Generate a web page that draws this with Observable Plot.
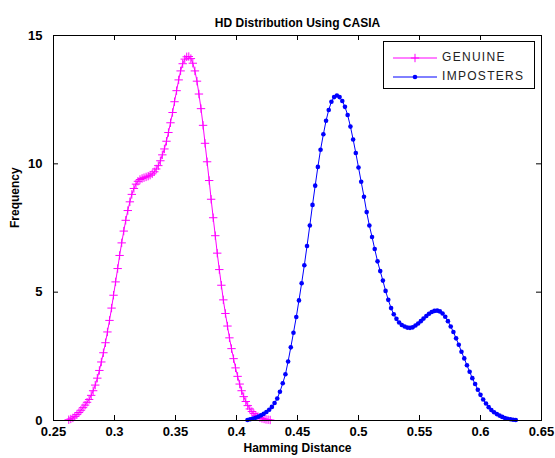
<!DOCTYPE html>
<html><head><meta charset="utf-8">
<script src="https://cdn.jsdelivr.net/npm/d3@7"></script>
<script src="https://cdn.jsdelivr.net/npm/@observablehq/plot@0.6"></script>
<style>
html,body{margin:0;padding:0;background:#fff;}
#wrap{position:relative;width:555px;height:458px;font-family:"Liberation Sans",Arial,sans-serif;}
#legend{position:absolute;left:383px;top:41px;width:152px;height:48px;box-sizing:border-box;border:1px solid #000;background:#fff;}
#legend svg{display:block;}
</style></head><body><div id="wrap"></div>
<script>
const seriesNames = ["GENUINE", "IMPOSTERS"];
const xTicks = [0.25, 0.3, 0.35, 0.4, 0.45, 0.5, 0.55, 0.6, 0.65];
const xTickLabels = ["0.25", "0.3", "0.35", "0.4", "0.45", "0.5", "0.55", "0.6", "0.65"];
const yTicks = [0, 5, 10, 15];
const yTickLabels = ["0", "5", "10", "15"];

const genuineX = [
0.2625,0.2642,0.2659,0.2675,0.2692,0.2709,0.2725,0.2742,0.2759,0.2775,
0.2792,0.2809,0.2825,0.2842,0.2859,0.2876,0.2892,0.2909,0.2926,0.2942,
0.2959,0.2976,0.2992,0.3009,0.3026,0.3042,0.3059,0.3076,0.3092,0.3109,
0.3126,0.3142,0.3159,0.3176,0.3192,0.3209,0.3226,0.3242,0.3259,0.3276,
0.3292,0.3309,0.3326,0.3342,0.3359,0.3376,0.3392,0.3409,0.3426,0.3442,
0.3459,0.3476,0.3492,0.3509,0.3526,0.3542,0.3559,0.3576,0.3592,0.3609,
0.3626,0.3642,0.3659,0.3676,0.3692,0.3709,0.3726,0.3742,0.3759,0.3776,
0.3792,0.3809,0.3826,0.3842,0.3859,0.3876,0.3892,0.3909,0.3926,0.3942,
0.3959,0.3976,0.3992,0.4009,0.4026,0.4042,0.4059,0.4076,0.4092,0.4109,
0.4126,0.4142,0.4159,0.4176,0.4192,0.4209,0.4226,0.4242,0.4259,0.4276];
const genuineY = [
0.03,0.06,0.10,0.16,0.23,0.31,0.40,0.50,0.60,0.71,
0.82,0.98,1.16,1.38,1.65,1.95,2.28,2.64,3.03,3.45,
3.90,4.38,4.88,5.40,5.92,6.43,6.92,7.38,7.80,8.18,
8.52,8.81,9.04,9.21,9.32,9.39,9.43,9.46,9.49,9.52,
9.56,9.61,9.69,9.80,9.93,10.12,10.35,10.58,10.88,11.22,
11.60,12.00,12.42,12.85,13.27,13.62,13.90,14.08,14.17,14.18,
14.10,13.92,13.62,13.22,12.72,12.15,11.50,10.80,10.08,9.35,
8.62,7.90,7.20,6.52,5.88,5.27,4.70,4.17,3.68,3.22,
2.80,2.41,2.05,1.72,1.42,1.16,0.93,0.74,0.58,0.45,
0.35,0.27,0.20,0.15,0.11,0.08,0.06,0.04,0.03,0.02];

const impostorX = [
0.4090,0.4112,0.4134,0.4157,0.4179,0.4201,0.4223,0.4245,0.4268,0.4290,
0.4312,0.4334,0.4356,0.4379,0.4401,0.4423,0.4445,0.4467,0.4490,0.4512,
0.4534,0.4556,0.4578,0.4601,0.4623,0.4645,0.4667,0.4689,0.4712,0.4734,
0.4756,0.4778,0.4800,0.4823,0.4845,0.4867,0.4889,0.4911,0.4934,0.4956,
0.4978,0.5000,0.5022,0.5045,0.5067,0.5089,0.5111,0.5133,0.5156,0.5178,
0.5200,0.5222,0.5244,0.5267,0.5289,0.5311,0.5333,0.5355,0.5378,0.5400,
0.5422,0.5444,0.5467,0.5489,0.5511,0.5533,0.5556,0.5578,0.5600,0.5622,
0.5645,0.5667,0.5689,0.5711,0.5733,0.5756,0.5778,0.5800,0.5822,0.5844,
0.5867,0.5889,0.5911,0.5933,0.5956,0.5978,0.6000,0.6022,0.6045,0.6067,
0.6089,0.6111,0.6134,0.6156,0.6178,0.6200,0.6222,0.6245,0.6267,0.6289];
const impostorY = [
0.02,0.05,0.08,0.11,0.15,0.20,0.26,0.33,0.42,0.53,
0.68,0.86,1.12,1.45,1.80,2.30,2.85,3.42,4.03,4.68,
5.35,6.05,6.80,7.60,8.40,9.15,9.88,10.55,11.15,11.68,
12.10,12.42,12.60,12.66,12.60,12.45,12.22,11.90,11.45,10.95,
10.42,9.86,9.30,8.72,8.12,7.60,7.15,6.68,6.20,5.82,
5.45,5.05,4.70,4.38,4.14,3.96,3.82,3.72,3.66,3.62,
3.61,3.63,3.70,3.78,3.87,3.97,4.07,4.16,4.23,4.27,
4.28,4.25,4.17,4.04,3.87,3.66,3.45,3.20,2.95,2.68,
2.42,2.15,1.90,1.65,1.42,1.20,1.00,0.82,0.66,0.52,
0.41,0.32,0.25,0.19,0.14,0.10,0.07,0.05,0.03,0.02];

const MAGENTA = "#ff00ff", BLUE = "#0000ff";
const genuine = genuineX.map((x, i) => ({x, y: genuineY[i]}));
const impostors = impostorX.map((x, i) => ({x, y: impostorY[i]}));

const plusSymbol = {
  draw(ctx, size) {
    const r = Math.sqrt(size / Math.PI);
    ctx.moveTo(-r, 0); ctx.lineTo(r, 0);
    ctx.moveTo(0, -r); ctx.lineTo(0, r);
  }
};

const W = 555, H = 458, ML = 53, MR = 14, MT = 35, MB = 38, TICK = 5;
const innerW = W - ML - MR, innerH = H - MT - MB;

const chart = Plot.plot({
  width: W, height: H,
  marginLeft: ML, marginRight: MR, marginTop: MT, marginBottom: MB,
  style: {fontFamily: "'Liberation Sans', Arial, sans-serif", background: "#fff", color: "#000", overflow: "visible"},
  x: {domain: [0.25, 0.65]},
  y: {domain: [0, 15]},
  marks: [
    Plot.line(genuine, {x: "x", y: "y", stroke: MAGENTA, strokeWidth: 1}),
    Plot.dot(genuine, {x: "x", y: "y", symbol: plusSymbol, r: 4.2, stroke: MAGENTA, fill: "none", strokeWidth: 1}),
    Plot.line(impostors, {x: "x", y: "y", stroke: BLUE, strokeWidth: 1}),
    Plot.dot(impostors, {x: "x", y: "y", r: 2.3, fill: BLUE}),
    Plot.frame({stroke: "#000", strokeWidth: 1}),
    // inward ticks on all four sides (MATLAB box style)
    Plot.tickX(xTicks, {x: d => d, stroke: "#000", insetTop: innerH - TICK}),
    Plot.tickX(xTicks, {x: d => d, stroke: "#000", insetBottom: innerH - TICK}),
    Plot.tickY(yTicks, {y: d => d, stroke: "#000", insetRight: innerW - TICK}),
    Plot.tickY(yTicks, {y: d => d, stroke: "#000", insetLeft: innerW - TICK}),
    Plot.axisX({ticks: xTicks, anchor: "bottom", tickSize: 0, tickPadding: 6,
      tickFormat: d => xTickLabels[xTicks.indexOf(d)], fontSize: 13, fontWeight: "bold", label: null}),
    Plot.axisY({ticks: yTicks, anchor: "left", tickSize: 0, tickPadding: 11,
      tickFormat: d => yTickLabels[yTicks.indexOf(d)], fontSize: 13, fontWeight: "bold", label: null}),
    Plot.text(["HD Distribution Using CASIA"], {frameAnchor: "top", dy: -17, fontSize: 12, fontWeight: "bold"}),
    Plot.text(["Hamming Distance"], {frameAnchor: "bottom", dy: 31, fontSize: 12, fontWeight: "bold"}),
    Plot.text(["Frequency"], {frameAnchor: "left", dx: -38, rotate: -90, fontSize: 12, fontWeight: "bold"})
  ]
});
const wrap = document.getElementById("wrap");
wrap.appendChild(chart);

// legend (box overlay)
const legend = document.createElement("div");
legend.id = "legend";
const ns = "http://www.w3.org/2000/svg";
const lsvg = document.createElementNS(ns, "svg");
lsvg.setAttribute("width", 150); lsvg.setAttribute("height", 46);
const rows = [
  {name: seriesNames[0], color: MAGENTA, kind: "plus"},
  {name: seriesNames[1], color: BLUE, kind: "dot"}
];
rows.forEach((r, i) => {
  const yy = 16 + i * 19;
  const ln = document.createElementNS(ns, "line");
  ln.setAttribute("x1", 9); ln.setAttribute("x2", 53); ln.setAttribute("y1", yy); ln.setAttribute("y2", yy);
  ln.setAttribute("stroke", r.color); ln.setAttribute("stroke-width", 1);
  lsvg.appendChild(ln);
  if (r.kind === "plus") {
    const p = document.createElementNS(ns, "path");
    p.setAttribute("d", `M${31-4.2},${yy}H${31+4.2}M31,${yy-4.2}V${yy+4.2}`);
    p.setAttribute("stroke", r.color); p.setAttribute("fill", "none");
    lsvg.appendChild(p);
  } else {
    const c = document.createElementNS(ns, "circle");
    c.setAttribute("cx", 31); c.setAttribute("cy", yy); c.setAttribute("r", 2.3); c.setAttribute("fill", r.color);
    lsvg.appendChild(c);
  }
  const t = document.createElementNS(ns, "text");
  t.setAttribute("x", 58); t.setAttribute("y", yy);
  t.setAttribute("dominant-baseline", "middle");
  t.setAttribute("font-family", "'Liberation Sans', Arial, sans-serif");
  t.setAttribute("font-size", 12);
  t.setAttribute("letter-spacing", "1.3");
  t.setAttribute("fill", "#222");
  t.textContent = r.name;
  lsvg.appendChild(t);
});
legend.appendChild(lsvg);
wrap.appendChild(legend);
</script>
</body></html>
